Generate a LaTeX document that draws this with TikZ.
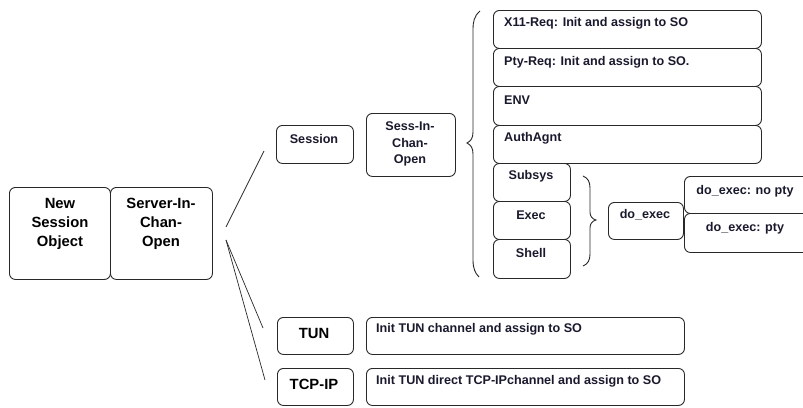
\documentclass[tikz,border=0pt]{standalone}
\usepackage{fontspec}
\setmainfont{Liberation Sans}
\definecolor{txt}{RGB}{25,25,45}
\definecolor{edge}{RGB}{40,40,40}
\tikzset{
  box/.style={draw=edge, line width=0.9pt, rounded corners=6pt, inner sep=0pt, anchor=north west},
  big/.style={font=\fontsize{14.8}{19}\selectfont\bfseries, text=black, align=center, inner sep=0pt},
  lbl/.style={font=\fontsize{12.6}{16.5}\selectfont\bfseries, text=txt, inner sep=0pt},
  lblc/.style={lbl, align=center},
  conn/.style={draw=edge, line width=0.7pt},
  brace/.style={draw=edge, line width=0.9pt}
}
\newcommand{\bx}[5]{\node[box, minimum width=#4pt-#2pt, minimum height=#5pt-#3pt] (#1) at (#2,#3) {};}
\begin{document}
\begin{tikzpicture}[x=1pt, y=-1pt]
\useasboundingbox (0,0) rectangle (803,407);
% boxes
\bx{nso}{9}{187}{110}{279}
\bx{sico}{110}{187}{212}{279}
\bx{session}{276}{125}{353}{163}
\bx{sess}{366}{113}{455}{176}
\bx{x11}{493}{10}{761}{48}
\bx{ptyreq}{493}{48}{761}{86}
\bx{env}{493}{86}{761}{125}
\bx{auth}{493}{125}{761}{163}
\bx{subsys}{493}{163}{570}{201}
\bx{exec}{493}{201}{570}{239}
\bx{shell}{493}{239}{570}{278}
\bx{doexec}{608}{202}{683}{239}
\bx{nopty}{684}{176}{830}{213}
\bx{pty}{684}{213}{830}{252}
\bx{tun}{277}{317}{353}{354}
\bx{tcp}{277}{368}{353}{405}
\bx{inittun}{366}{317}{684}{354}
\bx{inittcp}{366}{368}{684}{405}
% texts
\node[big] (nsot) at (60,224) {New\\Session\\Object};
\node[big] (sicot) at (161,224) {Server-In-\\Chan-\\Open};
\node[lblc] (sessiont) at (314,139) {Session};
\node[lblc] (sesst) at (410,144) {Sess-In-\\Chan-\\Open};
\node[lbl, anchor=west] (x11t) at (504,23) {X11-Req: Init and assign to SO};
\node[lbl, anchor=west] (ptyreqt) at (504,62) {Pty-Req: Init and assign to SO.};
\node[lbl, anchor=west] (envt) at (504,100) {ENV};
\node[lbl, anchor=west] (autht) at (504,138) {AuthAgnt};
\node[lblc] (subsyst) at (531,176) {Subsys};
\node[lblc] (exect) at (531,215) {Exec};
\node[lblc] (shellt) at (531,253) {Shell};
\node[lblc] (doexect) at (645,215) {do\_exec};
\node[lblc] (nopytt) at (745,191) {do\_exec: no pty};
\node[lblc] (ptyt) at (745,228) {do\_exec: pty};
\node[big] (tunt) at (314,333) {TUN};
\node[big] (tcpt) at (314,384) {TCP-IP};
\node[lbl, anchor=west] (inittunt) at (376,329) {Init TUN channel and assign to SO};
\node[lbl, anchor=west] (inittcpt) at (376,381) {Init TUN direct TCP-IPchannel and assign to SO};
% connectors
\coordinate (s1) at (226,227);
\coordinate (e1) at (264,151);
\coordinate (s2) at (226,240);
\coordinate (e2) at (263,328);
\coordinate (e3) at (265,380);
\draw[conn] (s1) -- (e1);
\draw[conn] (s2) -- (e2);
\draw[conn] (s2) -- (e3);
% big brace
\draw[brace] (480,11) .. controls (474,16) and (473,22) .. (473,30)
  -- (473,132) .. controls (473,138) and (471,141) .. (467,143)
  .. controls (471,145) and (473,148) .. (473,154)
  -- (473,260) .. controls (473,268) and (475,273) .. (479,277);
% small brace
\draw[brace] (583,176) .. controls (588,178) and (590,182) .. (590,188)
  -- (590,212) .. controls (590,216) and (592,219) .. (596,220)
  .. controls (592,221) and (590,224) .. (590,228)
  -- (590,254) .. controls (590,260) and (588,264) .. (583,266);
\end{tikzpicture}
\end{document}
